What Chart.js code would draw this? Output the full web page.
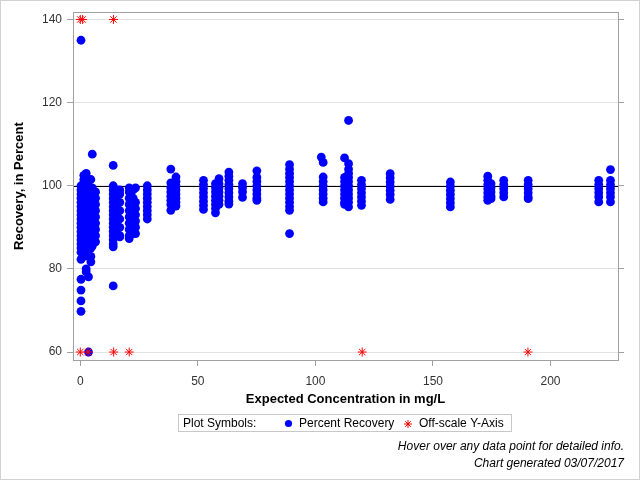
<!DOCTYPE html>
<html>
<head>
<meta charset="utf-8">
<script src="https://cdn.jsdelivr.net/npm/chart.js@4.4.1/dist/chart.umd.min.js"></script>
<style>
  body { margin: 0; background: #fff; }
  canvas { display: block; }
</style>
</head>
<body>
<canvas id="recoveryChart" width="640" height="480"></canvas>
<script>
// expected concentration levels (mg/L) and the recoveries measured at each
const concLevels = [0.3, 1.5, 2.5, 3.5, 4.5, 5.1, 6.5, 14, 15.5, 16.8, 20.8, 22.5, 23.5, 28.5,
  38.5, 40.7, 52.4, 57.5, 59, 63.2, 69, 75.1, 89, 102.5, 103.3, 112.4, 114.1, 119.6,
  131.8, 157.4, 173.3, 174.7, 180.1, 190.5, 220.5, 225.5];

const recoveryByLevel = [
  [135, 100, 99, 98, 97, 96, 95, 94, 93, 92, 91, 90, 89, 88, 87, 86, 85, 84, 82.3, 77.5, 74.9, 72.3, 69.8],
  [102.5, 101.5, 99, 97, 95, 93, 91, 89, 87, 85, 83],
  [103, 101, 99.5, 98, 96, 94, 92, 90, 88, 86, 84, 80, 79.3],
  [100, 98.5, 97, 95.5, 94, 92.5, 91, 89.5, 88, 86.5, 85, 83, 78.1, 60],
  [101.5, 99, 97, 95, 93, 91, 89, 87, 85, 83, 81.7],
  [107.6, 99.5, 97.5, 95.5, 93.5, 91.5, 89.5, 87.5, 85.5],
  [98.5, 97, 95.5, 94, 92.5, 91, 89.5, 88, 86.5],
  [104.9, 100, 99, 98, 97, 96, 95, 94, 93, 92, 91, 90, 89, 88, 87, 86, 85.3, 75.9],
  [99, 97.5, 96, 94.5, 93, 91.5, 90, 88.5],
  [99, 98, 96, 94, 92, 90, 88, 87.7],
  [99.5, 98.5, 97, 95.5, 94, 92.5, 91, 89.5, 88, 87.3],
  [99, 97, 95.5, 94, 92.5, 91, 89.5, 88.5],
  [99.5, 96, 94.5, 93, 91.5, 90, 88.5],
  [100, 99, 98, 97, 96, 95, 94, 93, 92],
  [104, 100.7, 99.5, 98.5, 97.5, 96.5, 95.5, 94.1],
  [102.1, 101, 100, 99, 98, 97, 96, 95.1],
  [101.3, 100.3, 99.3, 98.3, 97.3, 96.3, 95.3, 94.3],
  [100.5, 99.5, 98.5, 97.5, 96.5, 95.5, 94.5, 93.5],
  [101.7, 100.5, 99.5, 98.5, 97.5, 96.5, 95.5],
  [103.3, 102.3, 101.3, 100.3, 99.3, 98.3, 97.3, 96.3, 95.6],
  [100.5, 99.5, 98.5, 97.2],
  [103.6, 102, 101, 100, 99, 98, 97, 96.5],
  [105.1, 104, 103, 102, 101, 100, 99, 98, 97, 96, 95, 94.1, 88.5],
  [106.9],
  [105.6, 102.1, 101, 100, 99, 98, 97, 96.1],
  [106.7, 102, 101, 100, 99, 98, 97, 96, 95.5],
  [115.7, 105.3, 104, 103, 102, 101, 100, 99, 98, 97, 96, 94.9],
  [101.3, 100.3, 99.3, 98.3, 97.3, 96.3, 95.3],
  [102.9, 101.9, 100.9, 99.9, 98.9, 97.9, 96.7],
  [100.9, 99.9, 98.9, 97.9, 96.9, 95.9, 94.9],
  [102.3, 101.3, 100.3, 99.3, 98.3, 97.3, 96.5],
  [100.5, 99.5, 98.5, 97.5, 96.9],
  [101.3, 100.3, 99.3, 98.3, 97.3],
  [101.3, 100.3, 99.3, 98.3, 97.3, 96.9],
  [101.3, 100.3, 99.3, 98.3, 97.3, 96.1],
  [103.9, 101.3, 100.3, 99.3, 98.3, 97.3, 96.1]
];

// values outside the axis, pinned to the top/bottom limit
const offConc = [0, 1, 14.1, 0, 3.3, 14.2, 20.8, 119.9, 190.4];
const offRecovery = [140, 140, 140, 60, 60, 60, 60, 60, 60];

const yTicks = [60, 80, 100, 120, 140];
const xTicks = [0, 50, 100, 150, 200];
const refLine = 100;

const footnotes = ['Hover over any data point for detailed info.', 'Chart generated 03/07/2017'];

const FONT = '"Liberation Sans", Arial, sans-serif';

const recoveryPoints = [];
concLevels.forEach((c, i) => {
  recoveryByLevel[i].forEach(v => recoveryPoints.push({ x: c, y: v }));
});
const offPoints = offConc.map((c, i) => ({ x: c, y: offRecovery[i] }));

const decorPlugin = {
  id: 'decor',
  beforeDatasetsDraw(chart) {
    const { ctx, chartArea: a, scales } = chart;
    const y = Math.round(scales.y.getPixelForValue(refLine)) + 0.5;
    ctx.save();
    ctx.strokeStyle = '#000';
    ctx.lineWidth = 1;
    ctx.beginPath();
    ctx.moveTo(a.left, y);
    ctx.lineTo(a.right, y);
    ctx.stroke();
    ctx.restore();
  },
  afterDraw(chart) {
    const { ctx, chartArea: a } = chart;
    ctx.save();
    // plot frame
    ctx.strokeStyle = '#a0a0a0';
    ctx.lineWidth = 1;
    ctx.strokeRect(Math.round(a.left) + 0.5, Math.round(a.top) + 0.5,
      Math.round(a.right - a.left), Math.round(a.bottom - a.top));
    // outer border
    ctx.strokeStyle = '#d0d0d0';
    ctx.strokeRect(0.5, 0.5, 639, 479);

    // legend box
    ctx.strokeStyle = '#c8c8c8';
    ctx.strokeRect(178.5, 414.5, 333, 17);
    ctx.font = '12px ' + FONT;
    ctx.textBaseline = 'middle';
    ctx.textAlign = 'left';
    const ds = chart.data.datasets;
    const blue = ds.find(d => d.label === 'Percent Recovery');
    const red = ds.find(d => d.label === 'Off-scale Y-Axis');
    ctx.fillStyle = blue.backgroundColor;
    ctx.beginPath();
    ctx.arc(288.5, 423.5, 3.6, 0, Math.PI * 2);
    ctx.fill();
    ctx.strokeStyle = red.borderColor;
    ctx.lineWidth = 1;
    Chart.helpers.drawPoint(ctx, { pointStyle: 'star', radius: 4, borderWidth: 1 }, 408, 424);
    ctx.fillStyle = '#000';
    ctx.fillText('Plot Symbols:', 183, 423.5);
    ctx.fillText(blue.label, 299, 423.5);
    ctx.fillText(red.label, 419, 423.5);

    // footnotes
    ctx.font = 'italic 12px ' + FONT;
    ctx.textAlign = 'right';
    ctx.fillText(footnotes[0], 624, 446.5);
    ctx.fillText(footnotes[1], 624, 464);
    ctx.restore();
  }
};

const axisFont = { family: FONT, size: 12 };
const titleFont = { family: FONT, size: 13, weight: 'bold' };

new Chart(document.getElementById('recoveryChart'), {
  type: 'scatter',
  data: {
    datasets: [
      {
        label: 'Off-scale Y-Axis',
        data: offPoints,
        pointStyle: 'star',
        pointRadius: 4.5,
        borderColor: '#ff0000',
        backgroundColor: '#ff0000',
        borderWidth: 1,
        order: 0
      },
      {
        label: 'Percent Recovery',
        data: recoveryPoints,
        pointStyle: 'circle',
        pointRadius: 4.4,
        borderWidth: 0,
        backgroundColor: '#0000ff',
        borderColor: '#0000ff',
        order: 1
      }
    ]
  },
  options: {
    responsive: false,
    animation: false,
    devicePixelRatio: 1,
    events: [],
    layout: { padding: { top: 12, bottom: 72, left: 0, right: 0 } },
    plugins: {
      legend: { display: false },
      tooltip: { enabled: false }
    },
    scales: {
      x: {
        type: 'linear',
        min: -3.1,
        max: 228.7,
        afterFit(scale) { scale.height = 48; },
        afterBuildTicks(scale) { scale.ticks = xTicks.map(v => ({ value: v })); },
        ticks: { font: axisFont, color: '#333', padding: 8, maxRotation: 0 },
        grid: { drawOnChartArea: false, tickLength: 6, tickColor: '#a0a0a0' },
        border: { display: false },
        title: {
          display: true,
          text: 'Expected Concentration in mg/L',
          font: titleFont,
          color: '#000',
          padding: { top: 0, bottom: 1 }
        }
      },
      y: {
        type: 'linear',
        position: 'left',
        min: 58.08,
        max: 141.75,
        afterFit(scale) { scale.width = 73; },
        afterBuildTicks(scale) { scale.ticks = yTicks.map(v => ({ value: v })); },
        ticks: { font: axisFont, color: '#333', padding: 5 },
        grid: { color: '#e2e2e2', tickLength: 6, tickColor: '#a0a0a0' },
        border: { display: false },
        title: {
          display: true,
          text: 'Recovery, in Percent',
          font: titleFont,
          color: '#000',
          padding: { top: 12, bottom: 0 }
        }
      },
      y2: {
        type: 'linear',
        position: 'right',
        min: 58.08,
        max: 141.75,
        afterFit(scale) { scale.width = 22; },
        afterBuildTicks(scale) { scale.ticks = yTicks.map(v => ({ value: v })); },
        ticks: { callback: () => '', padding: 0 },
        grid: { drawOnChartArea: false, tickLength: 6, tickColor: '#a0a0a0' },
        border: { display: false }
      }
    }
  },
  plugins: [decorPlugin]
});
</script>
</body>
</html>
